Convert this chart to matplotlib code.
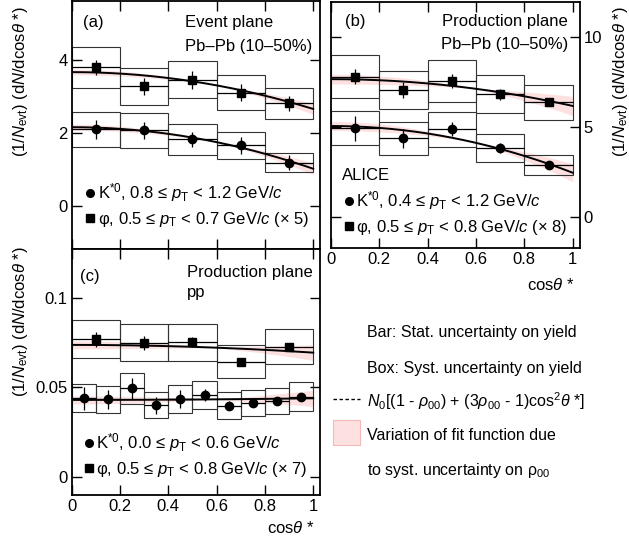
import numpy as np
import matplotlib
matplotlib.use('Agg')
import matplotlib.pyplot as plt
from matplotlib.patches import Rectangle
from matplotlib.lines import Line2D
from matplotlib.ticker import FuncFormatter

plt.rcParams['font.family'] = ['Liberation Sans', 'DejaVu Sans']
plt.rcParams['mathtext.fontset'] = 'custom'
plt.rcParams['mathtext.rm'] = 'Liberation Sans'
plt.rcParams['mathtext.it'] = 'Liberation Sans:italic'
plt.rcParams['mathtext.bf'] = 'Liberation Sans:bold'
plt.rcParams['font.size'] = 12

# (a) event plane, Pb-Pb 10-50%
a_x = [0.1, 0.3, 0.5, 0.7, 0.9]
a_k = [2.10, 2.07, 1.83, 1.66, 1.19]
a_k_stat = [0.26, 0.23, 0.20, 0.23, 0.20]
a_k_syst = [0.48, 0.49, 0.42, 0.38, 0.27]
a_phi = [3.80, 3.28, 3.46, 3.11, 2.81]
a_phi_stat = [0.20, 0.24, 0.25, 0.23, 0.20]
a_phi_syst = [0.57, 0.50, 0.51, 0.47, 0.42]
a_k_fit = [2.67, 0.191, 0.03]     # N0, rho00, syst. on rho00
a_phi_fit = [5.00, 0.266, 0.015]

# (b) production plane, Pb-Pb 10-50%
b_x = [0.1, 0.3, 0.5, 0.7, 0.9]
b_k = [4.91, 4.35, 4.85, 3.83, 2.87]
b_k_stat = [0.69, 0.55, 0.39, 0.28, 0.18]
b_k_syst = [0.94, 0.90, 0.95, 0.77, 0.57]
b_phi = [7.78, 7.04, 7.54, 6.80, 6.35]
b_phi_stat = [0.43, 0.43, 0.40, 0.30, 0.20]
b_phi_syst = [1.20, 1.08, 1.16, 1.06, 0.96]
b_k_fit = [6.26, 0.195, 0.04]
b_phi_fit = [10.72, 0.287, 0.025]

# (c) production plane, pp
c_k_x = [0.05, 0.15, 0.25, 0.35, 0.45, 0.55, 0.65, 0.75, 0.85, 0.95]
c_k = [0.0438, 0.0432, 0.0494, 0.0400, 0.0434, 0.0456, 0.0397, 0.0410, 0.0425, 0.0447]
c_k_stat = [0.0065, 0.0054, 0.0060, 0.0048, 0.0050, 0.0033, 0.0026, 0.0023, 0.0016, 0.0017]
c_k_syst = [0.0079, 0.0076, 0.0088, 0.0072, 0.0079, 0.0080, 0.0074, 0.0073, 0.0073, 0.0081]
c_phi_x = [0.1, 0.3, 0.5, 0.7, 0.9]
c_phi = [0.0768, 0.0749, 0.0751, 0.0643, 0.0726]
c_phi_stat = [0.0042, 0.0039, 0.0028, 0.0013, 0.0019]
c_phi_syst = [0.0107, 0.0103, 0.0103, 0.0093, 0.0099]
c_k_fit = [0.0648, 0.338, 0.035]
c_phi_fit = [0.1083, 0.320, 0.02]

BAND = '#fde1e1'
W, H = 629, 543

def fx(x):
    return x / W

def fy(y):
    return 1 - y / H

def draw(ax, x, y, stat, syst, bw, fit, marker):
    n0, rho, drho = fit
    c = np.linspace(0, 1, 200)
    f = lambda r: n0 * ((1 - r) + (3 * r - 1) * c**2)
    ax.fill_between(c, f(rho - drho), f(rho + drho), color=BAND, lw=0, zorder=1)
    for xi, yi, si in zip(x, y, syst):
        ax.add_patch(Rectangle((xi - bw / 2, yi - si), bw, 2 * si, fill=False,
                               ec='0.2', lw=0.8, zorder=2))
    ax.plot(c, f(rho), color='k', lw=1.4, zorder=3)
    ax.errorbar(x, y, yerr=stat, xerr=bw / 2, fmt=marker, color='k', ms=6,
                elinewidth=0.9, capsize=0, zorder=4)

fig = plt.figure(figsize=(W / 100, H / 100), dpi=100)
ax_a = fig.add_axes([fx(71.7), fy(249), 248.3 / W, 248 / H])
ax_b = fig.add_axes([fx(330.7), fy(248), 248.8 / W, 246 / H])
ax_c = fig.add_axes([fx(71.7), fy(495), 248.3 / W, 246 / H])

draw(ax_a, a_x, a_k, a_k_stat, a_k_syst, 0.2, a_k_fit, 'o')
draw(ax_a, a_x, a_phi, a_phi_stat, a_phi_syst, 0.2, a_phi_fit, 's')
draw(ax_b, b_x, b_k, b_k_stat, b_k_syst, 0.2, b_k_fit, 'o')
draw(ax_b, b_x, b_phi, b_phi_stat, b_phi_syst, 0.2, b_phi_fit, 's')
draw(ax_c, c_k_x, c_k, c_k_stat, c_k_syst, 0.1, c_k_fit, 'o')
draw(ax_c, c_phi_x, c_phi, c_phi_stat, c_phi_syst, 0.2, c_phi_fit, 's')

fmt = FuncFormatter(lambda v, p: f'{v:g}')
for ax in (ax_a, ax_b, ax_c):
    ax.set_xlim(0, 1.028)
    ax.set_xticks(np.arange(0, 1.01, 0.2))
    ax.xaxis.set_major_formatter(fmt)
    ax.yaxis.set_major_formatter(fmt)
    ax.tick_params(direction='in', length=7, width=1, top=True, right=True,
                   labelsize=12, pad=3)
    for s in ax.spines.values():
        s.set_linewidth(1.3)

ax_a.set_ylim(-1.18, 5.62)
ax_a.set_yticks([0, 2, 4])
ax_a.tick_params(labelbottom=False)
ax_b.set_ylim(-1.74, 11.93)
ax_b.set_yticks([0, 5, 10])
ax_b.tick_params(labelleft=False, labelright=True)
ax_c.set_ylim(-0.0102, 0.1272)
ax_c.set_yticks([0, 0.05, 0.1])

ylab = r'(1/$N_{\rm evt}$) (d$N$/dcos$\theta$ *)'
fig.text(fx(21), fy(82), ylab, rotation=90, ha='center', va='center')
fig.text(fx(21), fy(322), ylab, rotation=90, ha='center', va='center')
fig.text(fx(621), fy(82), ylab, rotation=90, ha='center', va='center')
fig.text(fx(315), fy(528), r'cos$\theta$ *', ha='right', va='center')
fig.text(fx(575), fy(285), r'cos$\theta$ *', ha='right', va='center')

# panel labels
fig.text(fx(83), fy(22.7), '(a)', va='center')
fig.text(fx(185), fy(22.7), 'Event plane', va='center')
fig.text(fx(185), fy(46.7), 'Pb–Pb (10–50%)', va='center')
fig.text(fx(345), fy(21.7), '(b)', va='center')
fig.text(fx(568), fy(21.7), 'Production plane', ha='right', va='center')
fig.text(fx(568), fy(45), 'Pb–Pb (10–50%)', ha='right', va='center')
fig.text(fx(342), fy(180), 'ALICE', va='baseline')
fig.text(fx(80), fy(276.7), '(c)', va='center')
fig.text(fx(186.7), fy(276.7), 'Production plane', va='baseline')
fig.text(fx(186.7), fy(296.7), 'pp', va='baseline')

# in-panel legends
leg = [
    (90, 192.7, 98, 198.3, 'o', r'K$^{*0}$, 0.8 ≤ $p_{\rm T}$ < 1.2 GeV/$c$'),
    (90, 218.3, 98, 224.3, 's', r'φ, 0.5 ≤ $p_{\rm T}$ < 0.7 GeV/$c$ (× 5)'),
    (349.3, 201, 356, 206, 'o', r'K$^{*0}$, 0.4 ≤ $p_{\rm T}$ < 1.2 GeV/$c$'),
    (349.3, 226, 356, 231.7, 's', r'φ, 0.5 ≤ $p_{\rm T}$ < 0.8 GeV/$c$ (× 8)'),
    (89, 443.3, 96, 448.3, 'o', r'K$^{*0}$, 0.0 ≤ $p_{\rm T}$ < 0.6 GeV/$c$'),
    (89, 468.3, 96, 474, 's', r'φ, 0.5 ≤ $p_{\rm T}$ < 0.8 GeV/$c$ (× 7)'),
]
for mx, my, tx, ty, m, txt in leg:
    fig.add_artist(Line2D([fx(mx)], [fy(my)], marker=m, color='k', ms=5.5, ls=''))
    fig.text(fx(tx), fy(ty), txt, va='baseline')

# right-hand legend
fs = 11.5
fig.text(fx(366.7), fy(337.3), 'Bar: Stat. uncertainty on yield', fontsize=fs, va='baseline')
fig.text(fx(366.7), fy(372.7), 'Box: Syst. uncertainty on yield', fontsize=fs, va='baseline')
fig.add_artist(Line2D([fx(333), fx(360)], [fy(399), fy(399)], color='k', lw=1,
                      dashes=(2.5, 1.8)))
fig.text(fx(366.7), fy(406.7),
         r'$N_0$[(1 - $\rho_{00}$) + (3$\rho_{00}$ - 1)cos$^2\theta$ *]',
         fontsize=fs, va='baseline')
fig.add_artist(Rectangle((fx(333), fy(445)), 27 / W, 25 / H, fc=BAND,
                         ec='#f5b8b8', lw=0.8))
fig.text(fx(366.7), fy(440), 'Variation of fit function due', fontsize=fs, va='baseline')
fig.text(fx(366.7), fy(475), r'to syst. uncertainty on ρ$_{00}$', fontsize=fs,
         va='baseline')

fig.savefig('out.png', dpi=100)
